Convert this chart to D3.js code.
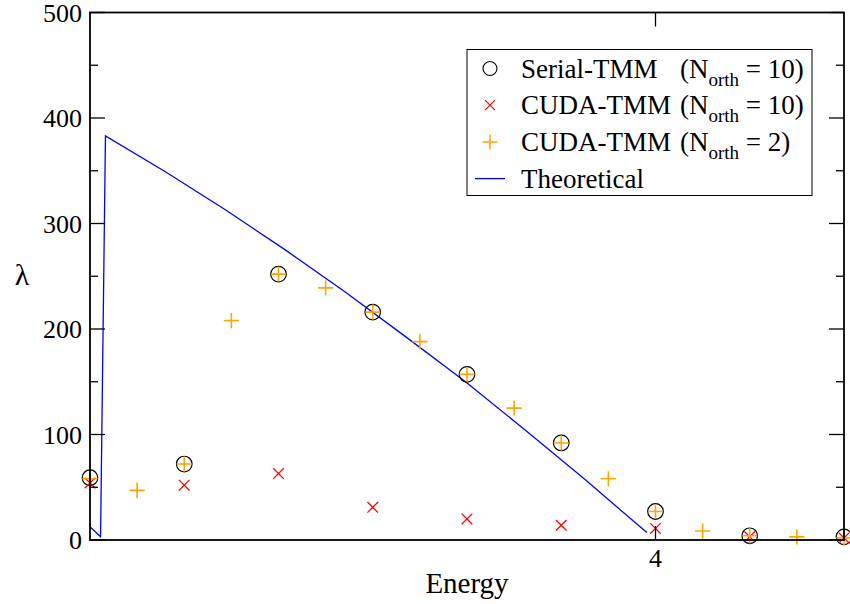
<!DOCTYPE html>
<html><head><meta charset="utf-8">
<script src="https://cdn.jsdelivr.net/npm/d3@7"></script>
<style>body{margin:0;background:#fff}svg{display:block}</style>
</head><body><svg id="c" width="850" height="604"></svg>
<script>
// Data
const energyGrid = [2.5, 2.75, 3.0, 3.25, 3.5, 3.75, 4.0, 4.25, 4.5];
const serialN10 = [59, 72, 252, 216, 157, 92, 27, 4, 3];
const cudaN10 = [54, 52, 63, 31, 20, 14, 11, 3, 2];
const halfGrid = [2.5, 2.625, 2.75, 2.875, 3.0, 3.125, 3.25, 3.375, 3.5, 3.625, 3.75, 3.875, 4.0, 4.125, 4.25, 4.375, 4.5];
const cudaN2 = [58, 47, 72, 208, 252, 239, 216, 188, 157, 125, 92, 58, 27, 8.5, 4, 3, 2];
const theoE = [2.5, 2.528, 2.541, 2.700, 2.859, 3.018, 3.177, 3.336, 3.496, 3.655, 3.814, 3.977];
const theoL = [12.6, 3, 383, 349, 313, 275, 235, 193, 150, 104, 57, 7];
const yTicksMajor = [0, 100, 200, 300, 400, 500];
const yTicksMinor = [50, 150, 250, 350, 450];
const xTicks = [4];
const legendLabels = ["Serial-TMM", "CUDA-TMM", "CUDA-TMM", "Theoretical"];
const legendN = ["10", "10", "2", null];

const FONT = "Liberation Serif";
const svg = d3.select("#c");
const L = 90, R = 844, T = 12.5, B = 540;
const x = d3.scaleLinear().domain([2.5, 4.5]).range([L, R]);
const y = d3.scaleLinear().domain([0, 500]).range([B, T]);

// Theoretical line
svg.append("path")
  .datum(theoE.map((e, i) => [e, theoL[i]]))
  .attr("fill", "none").attr("stroke", "#0000ff").attr("stroke-width", 1.3)
  .attr("d", d3.line().x(d => x(d[0])).y(d => y(d[1])));

// Serial circles
svg.append("g").selectAll("circle").data(energyGrid).join("circle")
  .attr("cx", d => x(d)).attr("cy", (d, i) => y(serialN10[i])).attr("r", 7.8)
  .attr("fill", "none").attr("stroke", "#000").attr("stroke-width", 1.2);

// CUDA N=10 crosses
const xs = 5.3;
svg.append("g").selectAll("path").data(energyGrid).join("path")
  .attr("d", (d, i) => { const cx = x(d), cy = y(cudaN10[i]); return `M${cx-xs},${cy-xs}L${cx+xs},${cy+xs}M${cx-xs},${cy+xs}L${cx+xs},${cy-xs}`; })
  .attr("stroke", "#ff0000").attr("stroke-width", 1.3).attr("fill", "none");

// CUDA N=2 pluses
const ps = 7.6;
svg.append("g").selectAll("path").data(halfGrid).join("path")
  .attr("d", (d, i) => { const cx = x(d), cy = y(cudaN2[i]); return `M${cx-ps},${cy}L${cx+ps},${cy}M${cx},${cy-ps}L${cx},${cy+ps}`; })
  .attr("stroke", "#ffa500").attr("stroke-width", 1.6).attr("fill", "none");

// Frame
svg.append("rect").attr("x", L).attr("y", T).attr("width", R - L).attr("height", B - T)
  .attr("fill", "none").attr("stroke", "#000").attr("stroke-width", 1.8);

// Ticks
const ga = svg.append("g").attr("stroke", "#000").attr("stroke-width", 1.3);
yTicksMajor.forEach(v => {
  ga.append("line").attr("x1", L).attr("x2", L + 15).attr("y1", y(v)).attr("y2", y(v));
  ga.append("line").attr("x1", R).attr("x2", R - 15).attr("y1", y(v)).attr("y2", y(v));
});
yTicksMinor.forEach(v => {
  ga.append("line").attr("x1", L).attr("x2", L + 8).attr("y1", y(v)).attr("y2", y(v));
  ga.append("line").attr("x1", R).attr("x2", R - 8).attr("y1", y(v)).attr("y2", y(v));
});
xTicks.forEach(v => {
  ga.append("line").attr("x1", x(v)).attr("x2", x(v)).attr("y1", B).attr("y2", B - 14);
  ga.append("line").attr("x1", x(v)).attr("x2", x(v)).attr("y1", T).attr("y2", T + 14);
});
svg.append("g").selectAll("text").data(yTicksMajor).join("text")
  .attr("x", L - 8).attr("y", d => y(d) + 9).attr("text-anchor", "end").attr("font-size", 26)
  .attr("font-family", FONT).text(d => d);
svg.append("g").selectAll("text").data(xTicks).join("text")
  .attr("x", d => x(d)).attr("y", B + 27).attr("text-anchor", "middle").attr("font-size", 26)
  .attr("font-family", FONT).text(d => d);

// Axis titles
svg.append("text").attr("x", (L + R) / 2).attr("y", 593).attr("text-anchor", "middle").attr("font-size", 29)
  .attr("font-family", FONT).text("Energy");
svg.append("text").attr("x", 22).attr("y", 285).attr("text-anchor", "middle").attr("font-size", 30)
  .attr("font-family", FONT).text("λ");

// Legend
const lg = svg.append("g");
lg.append("rect").attr("x", 467).attr("y", 49.5).attr("width", 345).attr("height", 146)
  .attr("fill", "#fff").attr("stroke", "#000").attr("stroke-width", 1);
const rowY = [68.5, 105.2, 141.9, 178.6];
const sx = 490;
lg.append("circle").attr("cx", sx).attr("cy", rowY[0]).attr("r", 7).attr("fill", "none").attr("stroke", "#000").attr("stroke-width", 1.1);
lg.append("path").attr("d", `M${sx-5},${rowY[1]-5}L${sx+5},${rowY[1]+5}M${sx-5},${rowY[1]+5}L${sx+5},${rowY[1]-5}`).attr("stroke", "#ff0000").attr("stroke-width", 1.2);
lg.append("path").attr("d", `M${sx-7.5},${rowY[2]}L${sx+7.5},${rowY[2]}M${sx},${rowY[2]-7.5}L${sx},${rowY[2]+7.5}`).attr("stroke", "#ffa500").attr("stroke-width", 1.5);
lg.append("line").attr("x1", 475).attr("x2", 505).attr("y1", rowY[3]).attr("y2", rowY[3]).attr("stroke", "#0000ff").attr("stroke-width", 1.3);
legendLabels.forEach((t, i) => {
  lg.append("text").attr("x", 521).attr("y", rowY[i] + 9).attr("font-size", 27).attr("font-family", FONT).text(t);
  if (legendN[i]) {
    const tx = lg.append("text").attr("x", 680).attr("y", rowY[i] + 9).attr("font-size", 27).attr("font-family", FONT);
    tx.append("tspan").text("(N");
    tx.append("tspan").attr("font-size", 19).attr("dy", 8).text("orth");
    tx.append("tspan").attr("dy", -8).text(" = " + legendN[i] + ")");
  }
});
</script></body></html>
